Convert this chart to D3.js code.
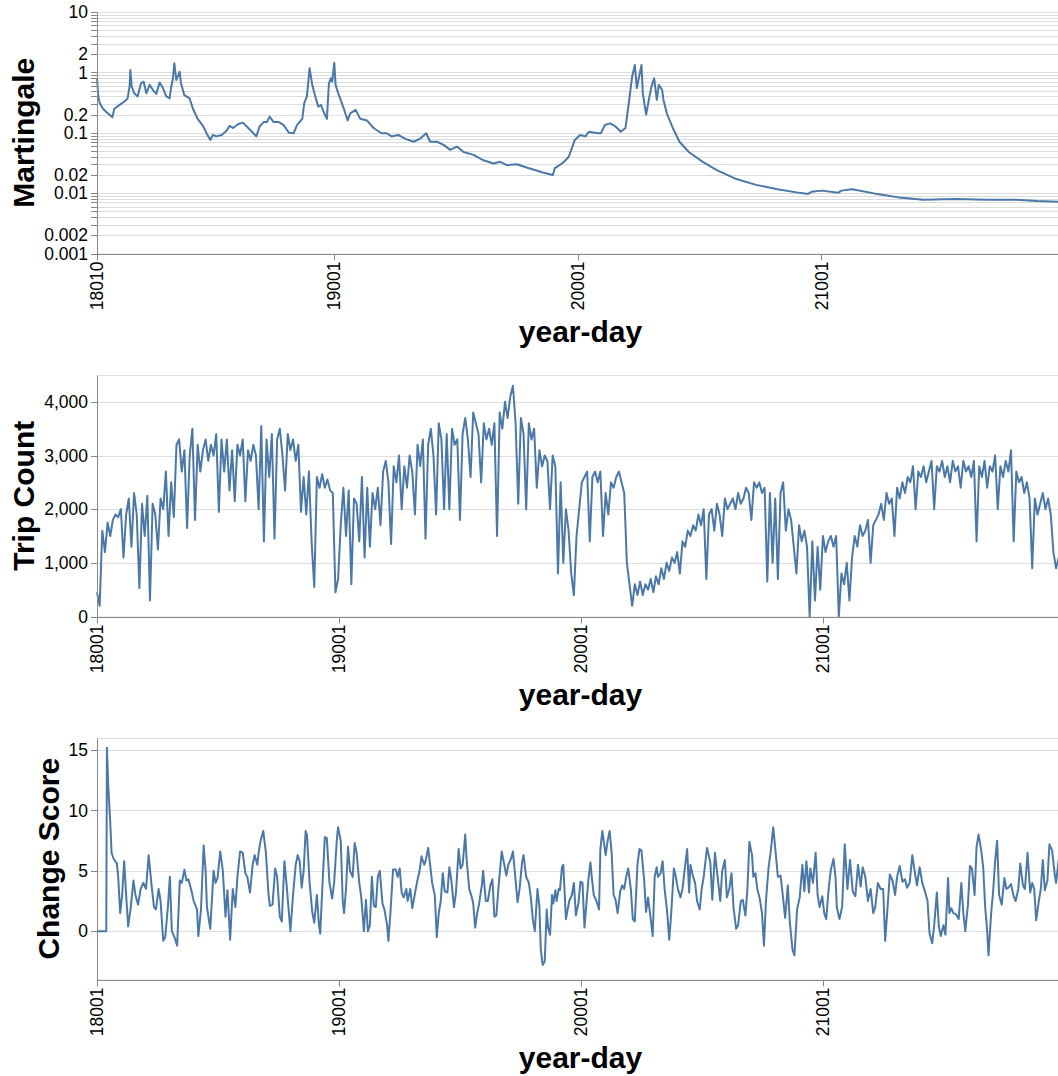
<!DOCTYPE html>
<html><head><meta charset="utf-8">
<script src="https://cdn.jsdelivr.net/npm/d3@7"></script>
<style>
body{margin:0;background:#fff}
svg{display:block}
text{font-family:"Liberation Sans",Arial,Helvetica,sans-serif}
</style>
</head><body>
<svg id="c" width="1058" height="1076"></svg>
<script>
// ---------------- DATA ----------------
// x axis: day index counted from 2018-01-01 (year-day 18001)
const xTickDays = [0, 365, 730, 1096];
const xTickLabels = ["18001", "19001", "20001", "21001"];
const martTickDays = [9, 365, 730, 1096];
const martTickLabels = ["18010", "19001", "20001", "21001"];

// Martingale: [day, value]
const martingale = [[9,0.80],[11,0.40],[13,0.31],[18,0.25],[23,0.22],[30,0.19],[32,0.18],[35,0.25],[43,0.29],[50,0.33],[55,0.37],[58,0.6],[59,1.1],[61,0.58],[65,0.45],[70,0.40],[75,0.66],[79,0.70],[83,0.45],[88,0.62],[93,0.51],[98,0.44],[103,0.68],[108,0.55],[113,0.40],[118,0.37],[120,0.55],[123,0.8],[125,1.42],[128,0.75],[131,0.9],[133,1.03],[135,0.66],[140,0.42],[148,0.37],[153,0.25],[160,0.17],[168,0.13],[173,0.10],[179,0.076],[183,0.092],[188,0.087],[196,0.092],[203,0.107],[208,0.13],[213,0.12],[221,0.14],[228,0.147],[236,0.12],[243,0.10],[248,0.087],[253,0.127],[259,0.15],[264,0.15],[268,0.185],[274,0.15],[282,0.15],[289,0.134],[297,0.10],[304,0.098],[309,0.134],[317,0.17],[320,0.31],[324,0.40],[328,1.17],[332,0.62],[336,0.42],[341,0.27],[345,0.29],[350,0.21],[354,0.17],[357,0.66],[360,0.80],[362,0.70],[365,1.45],[367,0.62],[372,0.42],[380,0.24],[385,0.16],[389,0.21],[397,0.24],[404,0.17],[414,0.16],[424,0.12],[436,0.098],[444,0.098],[451,0.087],[461,0.092],[471,0.08],[484,0.071],[494,0.08],[503,0.098],[509,0.071],[519,0.071],[529,0.063],[539,0.052],[549,0.059],[559,0.048],[574,0.043],[589,0.035],[604,0.031],[614,0.033],[624,0.029],[639,0.030],[656,0.026],[672,0.023],[678,0.022],[693,0.020],[696,0.026],[707,0.031],[717,0.040],[726,0.076],[734,0.092],[742,0.087],[747,0.104],[761,0.098],[765,0.098],[771,0.134],[779,0.143],[787,0.127],[795,0.104],[802,0.12],[807,0.31],[812,0.85],[816,1.33],[819,0.55],[822,0.80],[826,1.33],[828,0.45],[833,0.20],[838,0.40],[841,0.58],[845,0.80],[849,0.35],[852,0.62],[857,0.51],[859,0.35],[864,0.21],[873,0.12],[883,0.071],[897,0.048],[918,0.033],[939,0.024],[966,0.0175],[998,0.0137],[1030,0.0116],[1063,0.0101],[1076,0.0097],[1081,0.0105],[1097,0.011],[1121,0.0101],[1126,0.011],[1142,0.0116],[1175,0.0099],[1212,0.0085],[1249,0.0078],[1297,0.008],[1345,0.0078],[1388,0.0078],[1420,0.0074],[1451,0.0072],[1460,0.0071]];
const martGrid = [0.001,0.002,0.003,0.004,0.005,0.006,0.007,0.008,0.009,0.01,0.02,0.03,0.04,0.05,0.06,0.07,0.08,0.09,0.1,0.2,0.3,0.4,0.5,0.6,0.7,0.8,0.9,1,2,3,4,5,6,7,8,9,10];
const martLabels = [10, 2, 1, 0.2, 0.1, 0.02, 0.01, 0.002, 0.001];

// Trip count: one value every 4 days starting at day 0
const tripStep = 4;
const tripCount = [
 450,200,1600,1200,1750,1500,1800,1900,1850,2000,
 1100,1900,2200,1300,2300,1900,530,2100,1500,2250,
 300,2100,1900,1250,2200,2000,2700,1500,2500,1850,
 3200,3300,2700,3100,1650,3000,3500,1800,3200,2700,
 3100,3300,2900,3200,3000,3400,1950,3300,2700,3300,
 2350,3100,2150,3200,3000,3300,2150,3100,2900,3200,
 3000,2000,3550,1400,3300,2600,3400,1450,3300,3500,
 3000,2350,3400,3100,3300,2900,3200,1950,2600,1900,
 2700,1400,550,2600,2400,2650,2400,2550,2350,2300,
 450,700,1700,2400,1500,2350,600,2200,2100,1400,
 2600,1100,2400,1300,2300,2000,2400,1700,2700,2900,
 2500,1350,2800,2500,3000,2000,2800,2400,3000,2700,
 1900,3200,2800,3300,1450,3200,3500,3000,1900,3600,
 3300,2000,3400,2000,3500,3200,3300,1800,3400,3700,
 3300,2600,3800,3600,3400,2500,3600,3300,3500,3200,
 3600,1500,3800,3500,4000,3700,4100,4300,3600,2100,
 3700,3400,2000,3600,3300,3500,2400,3100,2800,3000,
 2900,2000,3000,2800,800,2500,1000,2000,1600,800,
 400,1500,2000,2500,2600,2700,1400,2600,2700,2500,
 2700,1500,2300,1900,2500,2400,2600,2700,2500,2300,
 1000,600,200,600,400,650,400,600,500,700,
 450,750,600,900,700,1000,850,1100,1000,1200,
 800,1400,1300,1600,1500,1700,1600,1900,1700,2000,
 700,1900,2000,1600,2100,1900,1500,2200,2000,2100,
 2200,2000,2300,2100,2200,2400,2300,1800,2500,2400,
 2500,2300,2400,650,2300,1000,2200,700,2300,2500,
 1600,2000,1800,1300,800,1700,1400,1600,1300,0,
 1400,300,1300,500,1500,1200,1400,1500,1300,1500,
 0,800,600,1000,300,1100,1500,1300,1700,1500,
 1600,1800,1000,1700,1800,1900,2100,1800,2300,2100,
 2200,1500,2400,2200,2500,2300,2600,2500,2800,2000,
 2700,2600,2800,2500,2700,2900,2000,2800,2700,2900,
 2600,2800,2500,2900,2700,2800,2400,2900,2700,2800,
 2600,2900,1400,2800,2600,2900,2400,2800,2700,3000,
 2000,2800,2600,2900,2700,3100,1400,2700,2500,2600,
 2300,2500,2200,900,2200,1900,2100,2300,2000,2200,
 1900,1200,900,1100,1300,1500
];
const tripTicks = [0, 1000, 2000, 3000, 4000];

// Change score: [day, value]
const changeScore = [[0,0],[14,0],[15,15.2],[17,12],[20,9],[22,6.5],[25,6],[30,5.6],[32,4.5],[35,1.5],[38,3],[41,5.8],[44,3],[47,0.4],[51,2],[55,4.2],[58,3],[62,2.2],[66,3.5],[70,4],[74,3.5],[78,6.3],[82,4],[86,2],[89,1.8],[93,3.5],[96,2.5],[100,-0.8],[103,-0.5],[107,2],[110,4.5],[113,0],[117,-0.5],[121,-1.2],[125,4.2],[128,4],[132,5.1],[135,4.2],[138,4.3],[142,3.5],[146,2.5],[151,1.8],[153,-0.4],[157,1.8],[161,7.1],[164,5],[166,2],[171,0.2],[176,5],[179,4],[182,4.4],[186,6.6],[190,5],[194,1.2],[197,3.4],[201,-0.7],[205,3.5],[209,2],[212,4.5],[216,6.6],[220,6.5],[224,4.8],[227,4.5],[231,3.2],[235,5.5],[238,6.3],[242,5.5],[244,6.5],[247,7.5],[251,8.3],[255,6.5],[259,3],[261,2.1],[265,2.2],[269,5.2],[272,4.5],[276,1.2],[279,0.8],[283,5.8],[286,4],[289,2],[292,0],[296,3],[300,5.5],[303,6.3],[306,5.8],[309,3.6],[312,5],[315,8.3],[317,8],[321,4],[325,1.6],[328,0.7],[332,3],[335,0.6],[337,-0.2],[341,4.5],[344,7.8],[347,7.7],[351,4],[355,2.7],[358,4],[362,7.5],[364,8.6],[368,7.5],[371,2.5],[373,1.5],[376,3.5],[379,7],[382,5],[386,4.5],[389,7.3],[392,6.5],[396,4],[399,2.8],[403,0],[406,2.6],[409,0],[412,0.5],[415,4.5],[418,2.1],[421,2],[424,4.5],[427,5],[431,2.3],[434,1.8],[438,0.5],[440,-0.8],[443,1.5],[447,5.1],[451,5.1],[454,4.5],[457,5.2],[460,3.2],[463,2.8],[467,3.5],[469,2.5],[473,3.5],[476,1.9],[479,2.8],[483,4],[487,5],[490,6.2],[494,5.5],[496,5.8],[500,6.9],[503,5.5],[506,4],[510,3],[513,-0.5],[516,1.5],[519,2.5],[522,4.8],[525,3.3],[529,3.2],[532,5.3],[535,4.2],[539,2],[542,3.2],[546,6.8],[549,5.2],[552,5.5],[556,8],[558,6],[562,3.5],[566,2.8],[568,2.3],[571,0.3],[574,1.5],[577,2.3],[581,3.8],[583,5],[587,2.5],[590,2.5],[594,3.8],[597,4.3],[600,1.2],[603,1.3],[606,3.5],[611,6.6],[615,5.5],[618,4.6],[621,5.5],[625,6],[628,6.6],[631,4.8],[635,2.4],[638,3.5],[642,5.8],[644,6.3],[648,4.5],[652,4],[655,2.8],[658,1],[661,0],[665,3.5],[668,2],[670,-1.5],[673,-2.8],[676,-2.5],[679,1.8],[681,0.3],[684,-0.3],[687,3],[689,2.3],[692,3.4],[694,2.5],[697,3.5],[699,3.4],[702,5.3],[704,5.5],[708,1],[713,2.5],[717,3],[720,4],[723,1.3],[727,2.4],[730,4.1],[733,4],[736,0.3],[740,3],[742,4.3],[745,5.7],[747,4.5],[750,3],[754,2.5],[758,1.8],[760,6.8],[763,8.3],[765,7.5],[768,6.3],[771,7.5],[774,8.3],[777,6.5],[780,3],[783,2.6],[786,1.5],[790,3.3],[793,3.8],[796,3.5],[799,4.5],[802,5.2],[806,3.5],[809,1],[812,0.8],[816,5.5],[819,6.8],[822,6.7],[826,4.3],[829,1.6],[832,2.8],[836,1],[839,-0.4],[842,4.5],[845,5.3],[847,4.5],[851,4.8],[854,5.8],[857,3.5],[861,1.5],[864,-0.7],[867,1.5],[871,5.2],[874,4.5],[877,3.5],[881,2.8],[884,3.5],[887,5],[891,6.8],[894,3.2],[896,5.5],[900,4.5],[903,4],[906,2.5],[910,1.8],[913,3.5],[916,4.5],[921,6.9],[926,5.7],[929,2.6],[933,6.5],[937,4.5],[941,2.5],[944,5],[948,5.9],[951,2.8],[955,3.6],[958,4.8],[961,2],[965,0.2],[968,0.5],[972,2.5],[975,2.6],[979,1.3],[982,3.5],[985,7.4],[989,6.3],[991,4.5],[994,4.8],[997,3.5],[1001,2.6],[1004,1.5],[1007,-1.2],[1010,2.5],[1014,5.3],[1017,6.5],[1021,8.6],[1025,6.3],[1028,4.5],[1032,4.6],[1035,3.2],[1039,1.1],[1043,3.8],[1046,0.8],[1050,-1.5],[1053,-2],[1057,1.8],[1061,2.8],[1065,5.5],[1068,3.3],[1071,5.8],[1075,3.2],[1077,5.2],[1081,4],[1085,6.5],[1088,3],[1091,2],[1095,2.9],[1098,1.5],[1101,1],[1105,3.7],[1108,5.1],[1112,6],[1115,4.5],[1117,2],[1121,1],[1125,2],[1129,7.2],[1133,3.5],[1137,5.9],[1141,3.3],[1145,2.9],[1149,5.5],[1153,3.7],[1156,5.3],[1160,4.5],[1164,2.5],[1168,3.5],[1172,1.5],[1175,2],[1179,4],[1183,3.5],[1187,3.5],[1190,-0.8],[1193,1.5],[1197,4.7],[1201,4.2],[1205,3],[1208,4.5],[1212,5.4],[1216,4.1],[1220,4.3],[1223,3.6],[1227,4],[1231,6.3],[1235,4.8],[1238,3.8],[1242,5.3],[1246,4],[1250,3.3],[1254,2.5],[1257,-0.2],[1261,-1],[1264,0.5],[1268,3.2],[1271,0.4],[1274,-0.4],[1278,0.5],[1281,-0.3],[1285,4.4],[1287,1.5],[1290,1.9],[1293,1.5],[1297,1.4],[1301,1],[1305,4],[1308,1.5],[1311,0],[1315,2.2],[1318,5.4],[1321,5.2],[1325,3],[1328,7],[1331,8],[1335,6.7],[1338,5.3],[1341,2],[1344,0],[1346,-2],[1350,1.5],[1353,3.3],[1356,5.8],[1359,7.5],[1362,3],[1366,2.2],[1370,4.4],[1373,3.5],[1376,3.6],[1380,3.9],[1384,2.9],[1387,2.5],[1391,3.5],[1394,5.6],[1398,3.8],[1401,3.5],[1405,6.5],[1409,3.2],[1412,4],[1415,3.5],[1418,0.9],[1422,2.5],[1425,3.5],[1428,5.9],[1431,3.4],[1435,4.2],[1438,7.2],[1442,6.7],[1446,4.7],[1448,4],[1452,5.9],[1456,6],[1460,5.5]];
const changeTicks = [0, 5, 10, 15];

// ---------------- LAYOUT ----------------
const svg = d3.select("#c");
const LEFT = 97, PW = 967, PH = 241.5;
const LINE = "#4c78a8", GRID = "#ddd", AXIS = "#888";
const LABEL_FS = 17.5, TITLE_FS = 30;

function panel(o) {
  const top = o.top, bottom = top + PH;
  const x = d3.scaleLinear().domain(o.xDomain).range([LEFT, LEFT + PW]);
  const y = o.y.range([bottom, top]);
  const g = svg.append("g");

  // grid
  g.selectAll("line.grid").data(o.grid).join("line")
    .attr("x1", LEFT).attr("x2", LEFT + PW)
    .attr("y1", d => Math.round(y(d)) + 0.5).attr("y2", d => Math.round(y(d)) + 0.5)
    .attr("stroke", GRID).attr("stroke-width", 1);
  // view border
  g.append("rect").attr("x", LEFT + 0.5).attr("y", Math.round(top) + 0.5)
    .attr("width", PW).attr("height", PH).attr("fill", "none").attr("stroke", GRID);

  // line
  const line = d3.line().x(d => x(d[0])).y(d => y(d[1]));
  g.append("path").datum(o.data).attr("d", line)
    .attr("fill", "none").attr("stroke", LINE).attr("stroke-width", 2)
    .attr("stroke-linejoin", "round");

  // y axis
  const yb = Math.round(bottom) + 0.5;
  g.append("line").attr("x1", LEFT + 0.5).attr("x2", LEFT + 0.5)
    .attr("y1", Math.round(top) + 0.5).attr("y2", yb).attr("stroke", AXIS);
  g.selectAll("line.yt").data(o.grid).join("line")
    .attr("x1", LEFT - 6).attr("x2", LEFT)
    .attr("y1", d => Math.round(y(d)) + 0.5).attr("y2", d => Math.round(y(d)) + 0.5)
    .attr("stroke", AXIS);
  const labs = g.selectAll("text.yl").data(o.labels).join("text")
    .attr("x", LEFT - 9).attr("y", d => y(d)).attr("dy", "0.35em")
    .attr("text-anchor", "end").attr("font-size", LABEL_FS).attr("fill", "#000")
    .text(o.fmt);
  let minX = LEFT;
  labs.each(function () { minX = Math.min(minX, this.getBBox().x); });

  // x axis
  g.append("line").attr("x1", LEFT).attr("x2", LEFT + PW)
    .attr("y1", yb).attr("y2", yb).attr("stroke", AXIS);
  g.selectAll("line.xt").data(o.xTicks).join("line")
    .attr("x1", d => Math.round(x(d)) + 0.5).attr("x2", d => Math.round(x(d)) + 0.5)
    .attr("y1", yb).attr("y2", yb + 6).attr("stroke", AXIS);
  g.selectAll("text.xl").data(o.xTicks).join("text")
    .attr("transform", d => `translate(${x(d)},${bottom + 8}) rotate(-90)`)
    .attr("dy", "0.35em").attr("text-anchor", "end")
    .attr("font-size", LABEL_FS).attr("fill", "#000")
    .text((d, i) => o.xLabels[i]);

  // titles
  g.append("text")
    .attr("transform", `translate(${minX - 10},${(top + bottom) / 2}) rotate(-90)`)
    .attr("text-anchor", "middle").attr("font-size", TITLE_FS).attr("font-weight", "bold")
    .attr("fill", "#000").text(o.title);
  g.append("text").attr("x", LEFT + PW / 2).attr("y", bottom + 88)
    .attr("text-anchor", "middle").attr("font-size", TITLE_FS).attr("font-weight", "bold")
    .attr("fill", "#000").text("year-day");
}

panel({
  top: 12, xDomain: [9, 1460], xTicks: martTickDays, xLabels: martTickLabels,
  y: d3.scaleLog().domain([0.001, 10]), grid: martGrid, labels: martLabels,
  fmt: d => String(d), title: "Martingale", data: martingale
});
panel({
  top: 375, xDomain: [0, 1460], xTicks: xTickDays, xLabels: xTickLabels,
  y: d3.scaleLinear().domain([0, 4500]), grid: tripTicks, labels: tripTicks,
  fmt: d3.format(","), title: "Trip Count",
  data: tripCount.map((v, i) => [i * tripStep, v])
});
panel({
  top: 738, xDomain: [0, 1460], xTicks: xTickDays, xLabels: xTickLabels,
  y: d3.scaleLinear().domain([-4, 16]), grid: changeTicks, labels: changeTicks,
  fmt: d => String(d), title: "Change Score", data: changeScore
});
</script>
</body></html>
